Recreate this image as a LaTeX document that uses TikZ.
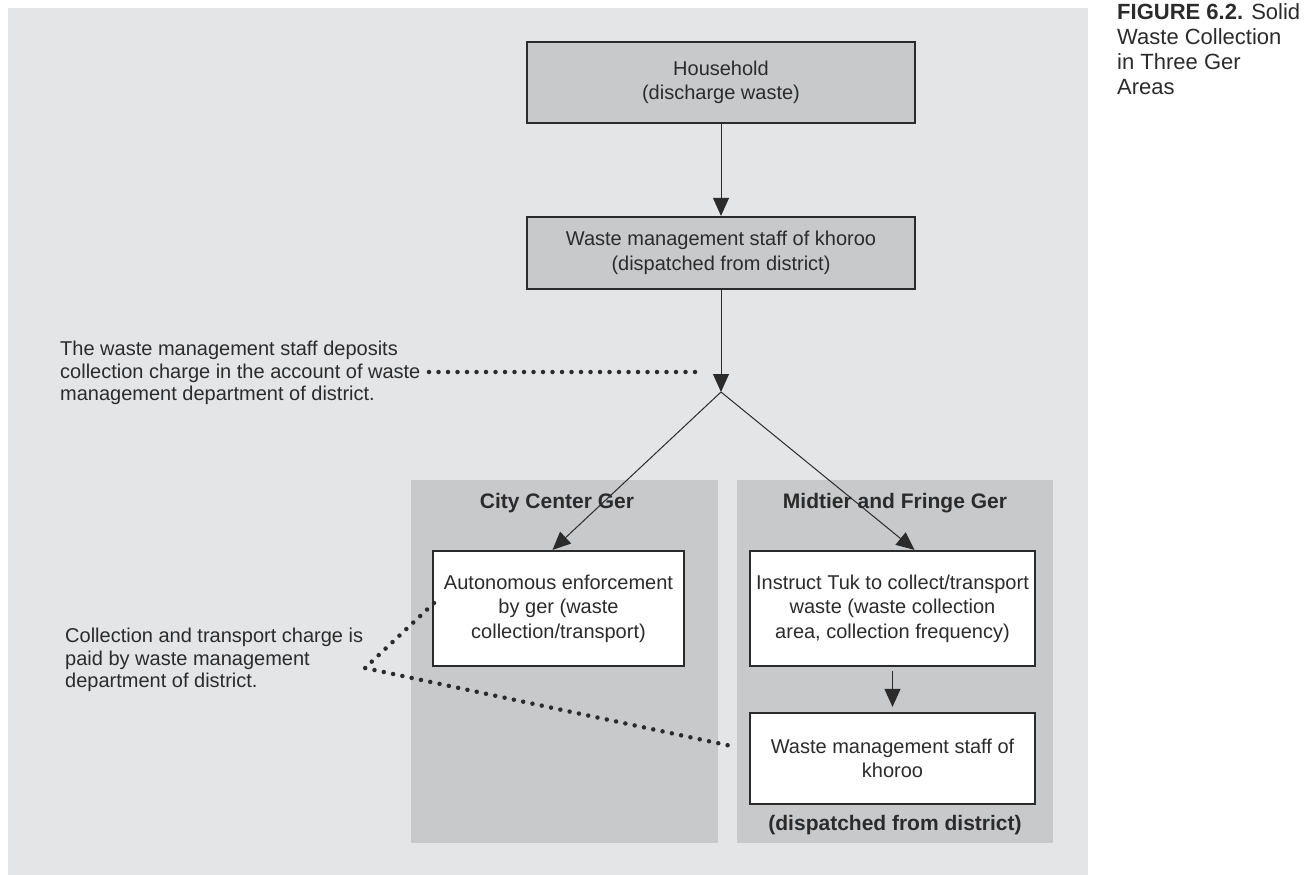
\documentclass[tikz,border=0pt]{standalone}
\usepackage{fontspec}
\setmainfont{Liberation Sans}
\usetikzlibrary{arrows.meta}
\definecolor{bgc}{HTML}{E4E5E7}
\definecolor{panelc}{HTML}{C8C9CB}
\definecolor{inkc}{HTML}{2B2B2B}
\tikzset{
  flowbox/.style={draw=inkc, line width=2.2pt, align=center, text=inkc,
    inner sep=0pt, font=\fontsize{20}{24.5}\selectfont},
  graybox/.style={flowbox, fill=panelc},
  whitebox/.style={flowbox, fill=white},
  heading/.style={text=inkc, font=\fontsize{21}{24}\selectfont\bfseries},
  note/.style={text=inkc, align=left, anchor=north west, inner sep=0pt,
    font=\fontsize{20}{22.5}\selectfont},
  arr/.style={-{Triangle[length=18pt,width=16pt]}, line width=1pt, draw=inkc},
  dots/.style={line width=4.5pt, dash pattern=on 0pt off 9.5pt, line cap=round, draw=inkc}
}
\begin{document}
\begin{tikzpicture}[x=1pt, y=-1pt]
  \useasboundingbox (0,0) rectangle (1307,875);
  % background and area panels
  \fill[bgc] (8,8) rectangle (1088,875);
  \fill[panelc] (411,480) rectangle (718,843);
  \fill[panelc] (737,480) rectangle (1053,843);
  % boxes
  \node[graybox, minimum width=388pt, minimum height=81pt] (house) at (721,82.5)
    {Household\\(discharge waste)};
  \node[graybox, minimum width=388pt, minimum height=72pt] (staff) at (721,253)
    {Waste management staff of khoroo\\(dispatched from district)};
  \coordinate (J) at (721,392);
  \node[heading] (city) at (557,503) {City Center Ger};
  \node[heading] (fringe) at (895,503) {Midtier and Fringe Ger};
  \node[whitebox, minimum width=251pt, minimum height=115pt] (auto) at (558.5,608.5)
    {Autonomous enforcement\\by ger (waste\\collection/transport)};
  \node[whitebox, minimum width=285pt, minimum height=115pt] (instr) at (892.5,608.5)
    {Instruct Tuk to collect/transport\\waste (waste collection\\area, collection frequency)};
  \node[whitebox, minimum width=285pt, minimum height=91pt] (waste) at (892.5,758.5)
    {Waste management staff of\\khoroo};
  \node[heading] (disp) at (895,825) {(dispatched from district)};
  % side notes
  \node[note] (deposit) at (60,341)
    {The waste management staff deposits\\collection charge in the account of waste\\management department of district.};
  \node[note] (paid) at (65,628)
    {Collection and transport charge is\\paid by waste management\\department of district.};
  % arrows
  \draw[arr] (house.south) -- (staff.north);
  \draw[arr] (staff.south) -- (J);
  \draw[arr] (J) -- ([xshift=-6pt]auto.north);
  \draw[arr] (J) -- ([xshift=22pt]instr.north);
  \draw[arr, shorten <=4pt, shorten >=5pt] (instr.south) -- (waste.north);
  % dotted leaders
  \coordinate (d1) at (429,372);
  \coordinate (d2) at (698,372);
  \coordinate (d3) at (434,603);
  \coordinate (d4) at (365,668);
  \coordinate (d5) at (736,747);
  \draw[dots] (d1) -- (d2);
  \draw[dots] (d3) -- (d4) -- (d5);
  % caption
  \node[anchor=north west, align=left, inner sep=0pt, text=inkc,
    font=\fontsize{22}{25}\selectfont] (cap) at (1117,3)
    {{\bfseries FIGURE 6.2.} Solid\\Waste Collection\\in Three Ger\\Areas};
\end{tikzpicture}
\end{document}
